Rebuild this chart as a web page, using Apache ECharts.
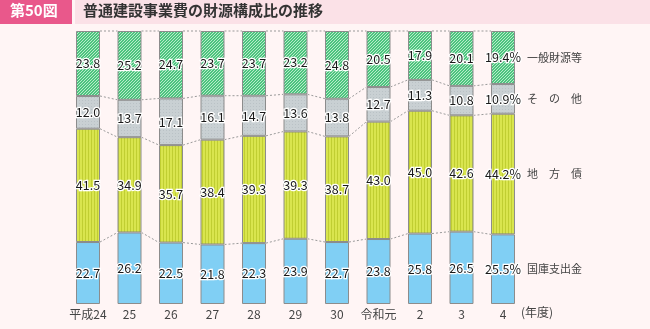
<!DOCTYPE html>
<html>
<head>
<meta charset="utf-8">
<script src="https://cdn.jsdelivr.net/npm/echarts@6/dist/echarts.min.js"></script>
<style>
  html, body { margin: 0; padding: 0; background: #fff5f5; }
  #chart { width: 650px; height: 329px; }
</style>
</head>
<body>
<div id="chart"></div>
<script>
// 年度
const years = ['平成24', '25', '26', '27', '28', '29', '30', '令和元', '2', '3', '4'];
// 財源構成比（％）
const kokko   = [22.7, 26.2, 22.5, 21.8, 22.3, 23.9, 22.7, 23.8, 25.8, 26.5, 25.5]; // 国庫支出金
const chihosai = [41.5, 34.9, 35.7, 38.4, 39.3, 39.3, 38.7, 43.0, 45.0, 42.6, 44.2]; // 地方債
const sonota  = [12.0, 13.7, 17.1, 16.1, 14.7, 13.6, 13.8, 12.7, 11.3, 10.8, 10.9]; // その他
const ippan   = [23.8, 25.2, 24.7, 23.7, 23.7, 23.2, 24.8, 20.5, 17.9, 20.1, 19.4]; // 一般財源等
const seriesNames = ['国庫支出金', '地　方　債', 'そ　の　他', '一般財源等'];

const FONT = '"Noto Sans CJK JP", "Noto Sans", sans-serif';
const BAR_W = 24;

// 塗りパターン
function makePattern(w, h, draw) {
  const c = document.createElement('canvas');
  c.width = w; c.height = h;
  draw(c.getContext('2d'));
  return { image: c, repeat: 'repeat' };
}
const greenHatch = makePattern(3, 3, (g) => {
  g.fillStyle = '#4cc47e'; g.fillRect(0, 0, 3, 3);
  g.fillStyle = '#b9ebcb';
  for (let k = 0; k < 3; k++) { g.fillRect(k, 2 - k, 1, 1); }
});
const grayDots = makePattern(3, 3, (g) => {
  g.fillStyle = '#c9d0d3'; g.fillRect(0, 0, 3, 3);
  g.fillStyle = '#bac2c6'; g.fillRect(1, 1, 1, 1);
});
const yellowLines = makePattern(3, 3, (g) => {
  g.fillStyle = '#d9e54e'; g.fillRect(0, 0, 3, 3);
  g.fillStyle = '#c0ce32'; g.fillRect(1, 0, 1, 3);
});

const stackData = [kokko, chihosai, sonota, ippan];
const fills = ['#80cff4', yellowLines, grayDots, greenHatch];
const last = years.length - 1;

// 各年度の区切り位置（累積）
function levels(i) {
  const out = [];
  let s = 0;
  for (let k = 0; k < stackData.length - 1; k++) { s += stackData[k][i]; out.push(s); }
  out.push(100);
  return out;
}

const barSeries = stackData.map((arr, k) => ({
  name: seriesNames[k],
  type: 'bar',
  stack: 'total',
  barWidth: BAR_W,
  data: arr,
  itemStyle: { color: fills[k], borderColor: '#8c8c8c', borderWidth: 1 },
  label: {
    show: true,
    position: 'inside',
    fontFamily: FONT,
    fontSize: 12.5,
    color: '#1a1a1a',
    textBorderColor: '#ffffff',
    textBorderWidth: 2.5,
    formatter: (p) => p.value.toFixed(1) + (p.dataIndex === last ? '%' : '')
  },
  emphasis: { disabled: true }
}));

// 棒の間の点線と右側の項目名
const connector = {
  type: 'custom',
  data: years.map((y, i) => [i, 0]),
  encode: { x: 0, y: 1 },
  silent: true,
  z: 1,
  renderItem: (params, api) => {
    const i = api.value(0);
    const children = [];
    if (i < last) {
      const a = levels(i), b = levels(i + 1);
      for (let k = 0; k < a.length; k++) {
        const p1 = api.coord([i, a[k]]);
        const p2 = api.coord([i + 1, b[k]]);
        children.push({
          type: 'line',
          shape: { x1: p1[0] + BAR_W / 2, y1: p1[1], x2: p2[0] - BAR_W / 2, y2: p2[1] },
          style: { stroke: '#9a9a9a', lineWidth: 1, lineDash: [2, 2] }
        });
      }
    } else {
      let s = 0;
      for (let k = 0; k < stackData.length; k++) {
        const mid = s + stackData[k][i] / 2;
        s += stackData[k][i];
        const p = api.coord([i, mid]);
        children.push({
          type: 'text',
          style: {
            x: p[0] + BAR_W / 2 + 12, y: p[1],
            text: seriesNames[k],
            fill: '#444', font: '11px ' + FONT,
            textVerticalAlign: 'middle'
          }
        });
      }
    }
    return { type: 'group', children };
  }
};

const chart = echarts.init(document.getElementById('chart'), null, { renderer: 'canvas' });
chart.setOption({
  backgroundColor: '#fff5f5',
  animation: false,
  grid: { left: 67.25, right: 126.25, top: 31, bottom: 25 },
  xAxis: {
    type: 'category',
    data: years,
    axisLine: { show: false },
    axisTick: { show: false },
    axisLabel: { interval: 0, color: '#444', fontFamily: FONT, fontSize: 12, margin: 4 }
  },
  yAxis: {
    type: 'value', min: 0, max: 100, interval: 20, show: false
  },
  series: [connector, ...barSeries],
  graphic: [
    { type: 'rect', left: 0, top: 0, shape: { width: 72, height: 24 }, style: { fill: '#e9588b' } },
    { type: 'rect', left: 75, top: 0, shape: { width: 575, height: 24 }, style: { fill: '#fbe1e7' } },
    { type: 'text', left: 10, top: 3, style: { text: '第50図', fill: '#ffffff', font: 'bold 15px ' + FONT } },
    { type: 'text', left: 83, top: 3, style: { text: '普通建設事業費の財源構成比の推移', fill: '#333333', font: 'bold 15px ' + FONT } },
    { type: 'text', left: 521, top: 306, style: { text: '(年度)', fill: '#444', font: '12px ' + FONT } }
  ]
});
</script>
</body>
</html>
